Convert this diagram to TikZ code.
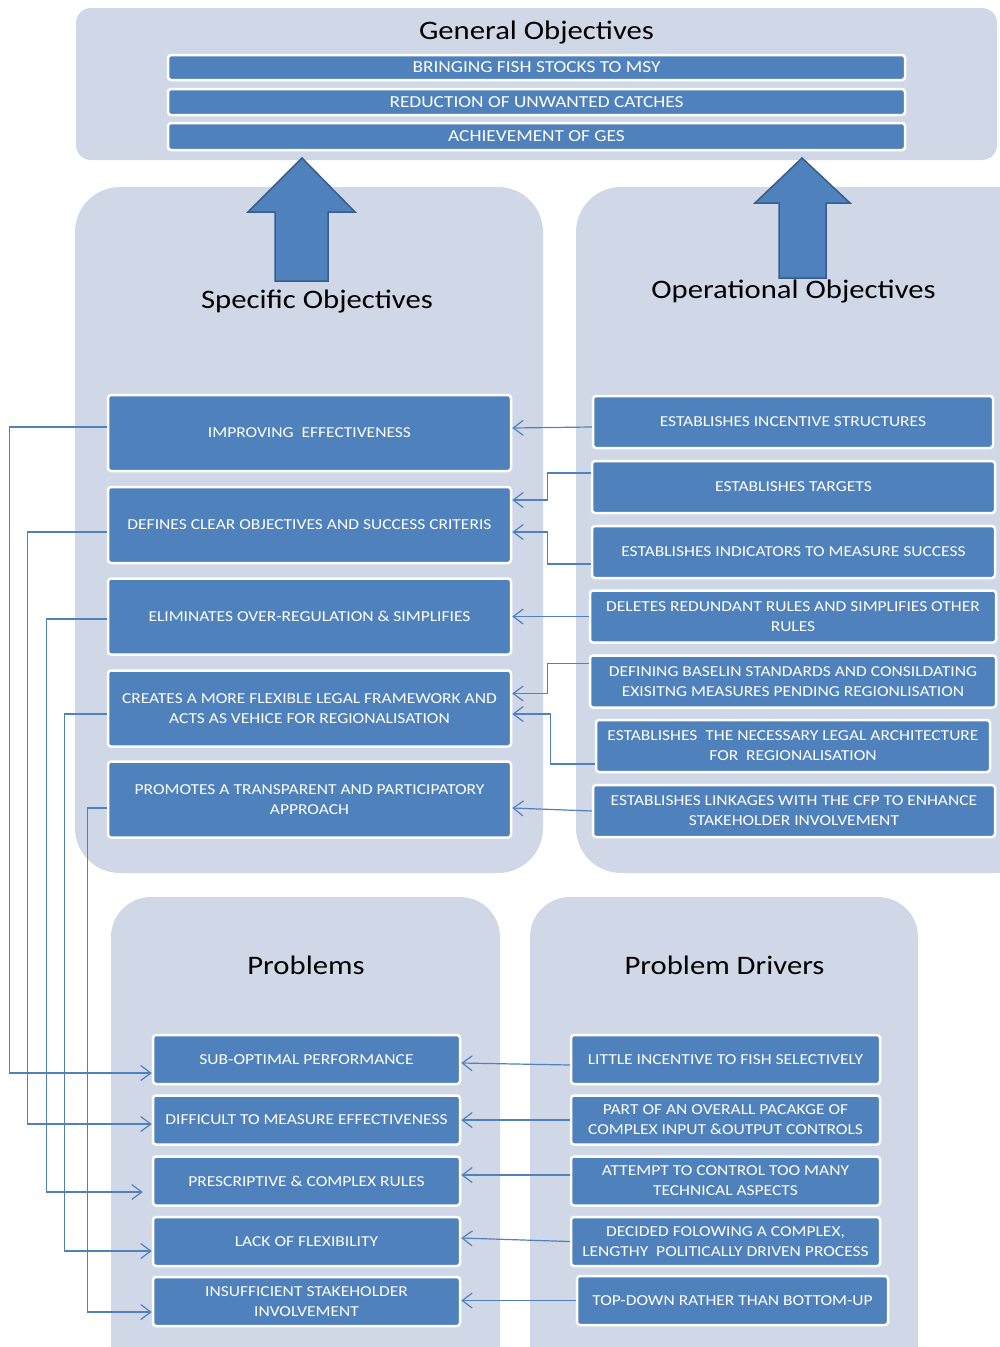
\documentclass[tikz,border=0pt]{standalone}
\usepackage{fontspec}
\setmainfont{Carlito}[FakeStretch=1.15]
\usetikzlibrary{arrows.meta,positioning,calc}

\definecolor{panelgrey}{HTML}{D0D8E8}
\definecolor{boxblue}{HTML}{4F81BD}
\definecolor{darkblue}{HTML}{385D8A}

\tikzset{
  panel/.style={fill=panelgrey},
  paneltitle/.style={anchor=base, text=black, font=\fontsize{26.7}{32}\selectfont},
  objbox/.style={rectangle, rounded corners=3, fill=boxblue, draw=white, line width=2.5,
                 text=white, align=center, inner sep=0pt, font=\fontsize{15.2}{20}\selectfont},
  link/.style={draw=boxblue, line width=1.2, -{Straight Barb[length=10,width=15]}},
  bigarrow/.style={fill=boxblue, draw=darkblue, line width=1.5},
}

\begin{document}
\begin{tikzpicture}[x=1pt,y=-1pt]
  \useasboundingbox (0,0) rectangle (1000,1347);
  \clip (0,0) rectangle (1000,1347);

  % panels
  \fill[panel, rounded corners=15] (76,8) rectangle (997,160);
  \fill[panel, rounded corners=45] (75,187) rectangle (543,873);
  \fill[panel, rounded corners=45] (576,187) rectangle (1040,873);
  \fill[panel, rounded corners=40] (111,897) rectangle (500,1390);
  \fill[panel, rounded corners=40] (530,897) rectangle (918,1390);

  % block arrows up to the general objectives
  \draw[bigarrow] (302,158) -- (355,212) -- (328,212) -- (328,281) -- (275,281) -- (275,212) -- (248,212) -- cycle;
  \draw[bigarrow] (802,158) -- (850,203) -- (826,203) -- (826,278) -- (779,278) -- (779,203) -- (755,203) -- cycle;

  % titles
  \node[paneltitle] (gentitle) at (536.5,39.5) {General Objectives};
  \node[paneltitle] (spectitle) at (317,308) {Specific Objectives};
  \node[paneltitle] (opertitle) at (793.5,298) {Operational Objectives};
  \node[paneltitle] (probtitle) at (306,974) {Problems};
  \node[paneltitle] (drvtitle) at (724.5,974) {Problem Drivers};

  % general objectives
  \foreach \y/\h/\txt [count=\i] in {67.5/25/{BRINGING FISH STOCKS TO MSY},
      102/26/{REDUCTION OF UNWANTED CATCHES}, 136.5/27/{ACHIEVEMENT OF GES}}
    \node[objbox, font=\fontsize{16.8}{20}\selectfont, minimum width=737, minimum height=\h] (gen\i) at (536.5,\y) {\txt};

  % specific objectives
  \foreach \y/\txt [count=\i] in {433/{IMPROVING~ EFFECTIVENESS},
      525/{DEFINES CLEAR OBJECTIVES AND SUCCESS CRITERIS},
      616.5/{ELIMINATES OVER-REGULATION \& SIMPLIFIES},
      708.5/{CREATES A MORE FLEXIBLE LEGAL FRAMEWORK AND\\ACTS AS VEHICE FOR REGIONALISATION},
      799.5/{PROMOTES A TRANSPARENT AND PARTICIPATORY\\APPROACH}}
    \node[objbox, minimum width=403, minimum height=76] (spec\i) at (309.5,\y) {\txt};

  % operational objectives
  \foreach \x/\y/\w/\txt [count=\i] in {793/422/400/{ESTABLISHES INCENTIVE STRUCTURES},
      793.5/487/403/{ESTABLISHES TARGETS},
      793.5/552/403/{ESTABLISHES INDICATORS TO MEASURE SUCCESS},
      793/616.5/406/{DELETES REDUNDANT RULES AND SIMPLIFIES OTHER\\RULES},
      793/681.5/406/{DEFINING BASELIN STANDARDS AND CONSILDATING\\EXISITNG MEASURES PENDING REGIONLISATION},
      793/746/394/{ESTABLISHES~ THE NECESSARY LEGAL ARCHITECTURE\\FOR~ REGIONALISATION},
      794/811/402/{ESTABLISHES LINKAGES WITH THE CFP TO ENHANCE\\STAKEHOLDER INVOLVEMENT}}
    \node[objbox, minimum width=\w, minimum height=52] (oper\i) at (\x,\y) {\txt};

  % problems
  \foreach \y/\txt [count=\i] in {1059.5/{SUB-OPTIMAL PERFORMANCE},
      1120/{DIFFICULT TO MEASURE EFFECTIVENESS},
      1181/{PRESCRIPTIVE \& COMPLEX RULES},
      1241.5/{LACK OF FLEXIBILITY},
      1301.5/{INSUFFICIENT STAKEHOLDER\\INVOLVEMENT}}
    \node[objbox, minimum width=307, minimum height=49] (prob\i) at (306.5,\y) {\txt};

  % problem drivers
  \foreach \x/\y/\w/\txt [count=\i] in {725.5/1059.5/309/{LITTLE INCENTIVE TO FISH SELECTIVELY},
      725.5/1120/309/{PART OF AN OVERALL PACAKGE OF\\COMPLEX INPUT \&OUTPUT CONTROLS},
      725.5/1181/309/{ATTEMPT TO CONTROL TOO MANY\\TECHNICAL ASPECTS},
      725.5/1241.5/309/{DECIDED FOLOWING A COMPLEX,\\LENGTHY~ POLITICALLY DRIVEN PROCESS},
      732.5/1300.5/311/{TOP-DOWN RATHER THAN BOTTOM-UP}}
    \node[objbox, minimum width=\w, minimum height=49] (drv\i) at (\x,\y) {\txt};

  % operational -> specific
  \draw[link] ([yshift=-5pt]oper1.west) -- ([yshift=5pt]spec1.east);
  \draw[link] ([yshift=14pt]oper2.west) -- ++(-43,0) |- ([yshift=25pt]spec2.east);
  \draw[link] ([yshift=-12pt]oper3.west) -- ++(-43,0) |- ([yshift=-7pt]spec2.east);
  \draw[link] (oper4.west) -- (oper4.west -| spec3.east);
  \draw[link] ([yshift=18pt]oper5.west) -- ++(-41,0) |- ([yshift=15pt]spec4.east);
  \draw[link] ([yshift=-18pt]oper6.west) -- ++(-44,0) |- ([yshift=-5.5pt]spec4.east);
  \draw[link] (oper7.west) -- ([yshift=-8.5pt]spec5.east);

  % drivers -> problems
  \draw[link] ([yshift=-5.5pt]drv1.west) -- ([yshift=-3.5pt]prob1.east);
  \draw[link] (drv2.west) -- (drv2.west -| prob2.east);
  \draw[link] ([yshift=6pt]drv3.west) -- ([yshift=6pt]prob3.east);
  \draw[link] (drv4.west) -- ([yshift=3.5pt]prob4.east);
  \draw[link] (drv5.west) -- (drv5.west -| prob5.east);

  % specific -> problems, round the left side
  \draw[link] ([yshift=6pt]spec1.west) -- ++(-97,0) |- ([yshift=-13.5pt]prob1.west);
  \draw[link] ([yshift=-7pt]spec2.west) -- ++(-79,0) |- ([yshift=-4pt]prob2.west);
  \draw[link] ([yshift=-2.5pt]spec3.west) -- ++(-60,0) |- ([xshift=-9pt,yshift=-11pt]prob3.west);
  \draw[link] ([yshift=-5.5pt]spec4.west) -- ++(-42,0) |- ([yshift=-9.5pt]prob4.west);
  \draw[link] ([yshift=-8.5pt]spec5.west) -- ++(-19,0) |- ([yshift=-10.5pt]prob5.west);
\end{tikzpicture}
\end{document}
